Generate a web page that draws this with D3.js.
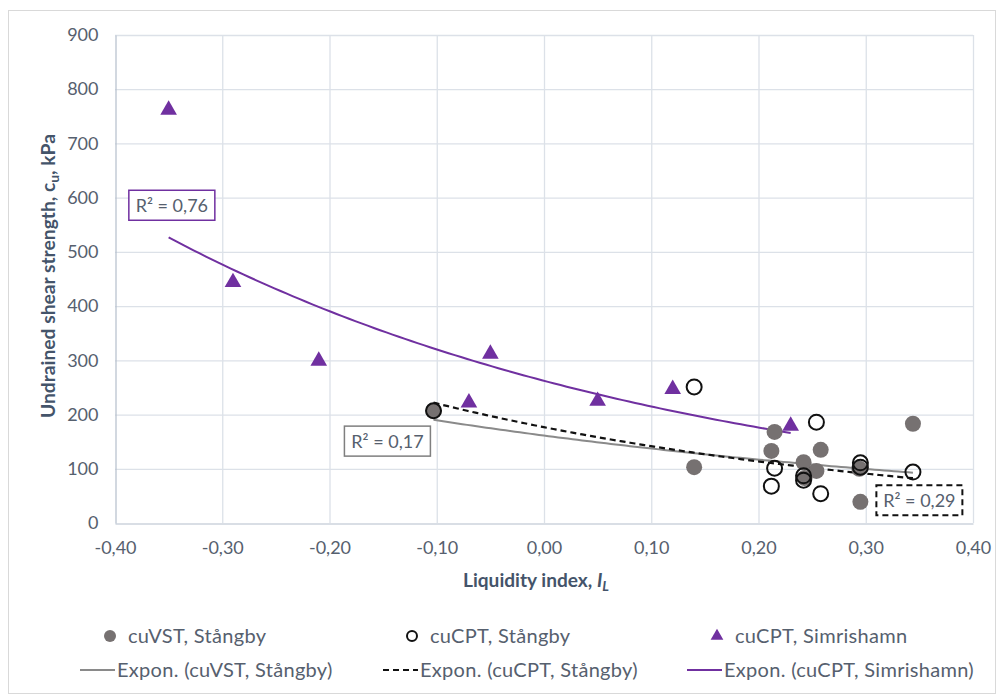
<!DOCTYPE html>
<html>
<head>
<meta charset="utf-8">
<script src="https://cdn.jsdelivr.net/npm/d3@7"></script>
<style>
  html, body { margin: 0; padding: 0; background: #fff; }
  svg { display: block; font-family: Lato, "Open Sans", sans-serif; }
</style>
</head>
<body>
<svg id="chart" width="1003" height="698"></svg>
<script>
// Liquidity index vs. undrained shear strength, Stångby and Simrishamn
const vstX = [-0.103, 0.140, 0.212, 0.215, 0.242, 0.243, 0.254, 0.258, 0.294, 0.295, 0.344];
const vstY = [207, 103, 133, 168, 112, 83, 96, 135, 100, 39, 183];

const cptX = [-0.103, 0.140, 0.254, 0.215, 0.212, 0.242, 0.242, 0.258, 0.295, 0.295, 0.344];
const cptY = [207, 251, 186, 101, 68, 79, 87, 54, 111, 103, 94];

const simX = [-0.350, -0.290, -0.210, -0.070, -0.050, 0.050, 0.120, 0.230];
const simY = [762, 444, 299, 222, 312, 225, 247, 179];

const xTicks = [-0.4, -0.3, -0.2, -0.1, 0.0, 0.1, 0.2, 0.3, 0.4];
const yTicks = [0, 100, 200, 300, 400, 500, 600, 700, 800, 900];

const seriesNames = ["cuVST, Stångby", "cuCPT, Stångby", "cuCPT, Simrishamn"];
const r2Labels = ["R² = 0,17", "R² = 0,29", "R² = 0,76"];

const svg = d3.select("#chart");
const margin = { left: 115, right: 30, top: 35, bottom: 175 };
const W = 1003, H = 698;

const x = d3.scaleLinear().domain([-0.4, 0.4]).range([margin.left, W - margin.right]);
const y = d3.scaleLinear().domain([0, 900]).range([H - margin.bottom, margin.top]);

const purple = "#7030A0";
const grayFill = "#767171";
const trendGray = "#8A8A8A";
const textCol = "#56606E";
const titleCol = "#44546A";
const gridCol = "#DCE1E8";

// outer chart frame
svg.append("rect").attr("x", 8.5).attr("y", 10.5).attr("width", 987).attr("height", 683)
  .attr("fill", "#fff").attr("stroke", "#D9D9D9");

// gridlines
svg.append("g").selectAll("line").data(yTicks.slice(1)).join("line")
  .attr("x1", x(-0.4)).attr("x2", x(0.4))
  .attr("y1", d => y(d) + 0.5).attr("y2", d => y(d) + 0.5)
  .attr("stroke", gridCol).attr("stroke-width", 1.3);
svg.append("g").selectAll("line").data(xTicks.slice(1)).join("line")
  .attr("x1", d => x(d) + 0.5).attr("x2", d => x(d) + 0.5)
  .attr("y1", y(0)).attr("y2", y(900))
  .attr("stroke", gridCol).attr("stroke-width", 1.3);

// axes
const fmt = d => d3.format(".2f")(d).replace(".", ",").replace("−", "-");
const xAxis = d3.axisBottom(x).tickValues(xTicks).tickFormat(fmt).tickSize(0).tickPadding(18);
const yAxis = d3.axisLeft(y).tickValues(yTicks).tickFormat(d3.format("d")).tickSize(0).tickPadding(17);

const gx = svg.append("g").attr("transform", `translate(0,${y(0) + 0.5})`).call(xAxis);
const gy = svg.append("g").attr("transform", `translate(${x(-0.4) + 0.5},0)`).call(yAxis);
[gx, gy].forEach(g => {
  g.select(".domain").attr("stroke", "#B4BECC").attr("stroke-width", 1.2);
  g.selectAll("text").attr("fill", textCol).attr("font-size", 18).attr("font-family", "Lato, sans-serif");
});

// axis titles (Calibri-like narrow setting)
const xt = svg.append("text").attr("x", 536).attr("y", 587).attr("text-anchor", "middle")
  .attr("fill", titleCol).attr("font-weight", "bold").attr("font-size", 18)
  .attr("textLength", 146).attr("lengthAdjust", "spacingAndGlyphs");
xt.append("tspan").text("Liquidity index, ");
xt.append("tspan").attr("font-style", "italic").text("I");
xt.append("tspan").attr("font-style", "italic").attr("font-size", 13).attr("dy", 4).text("L");

const yt = svg.append("text").attr("transform", "translate(55,276) rotate(-90)")
  .attr("text-anchor", "middle").attr("fill", titleCol).attr("font-weight", "bold").attr("font-size", 18)
  .attr("textLength", 284).attr("lengthAdjust", "spacingAndGlyphs");
yt.append("tspan").text("Undrained shear strength, c");
yt.append("tspan").attr("font-size", 13).attr("dy", 4).text("u");
yt.append("tspan").attr("dy", -4).text(", kPa");

// exponential trendline: least squares on ln(y)
function expFit(xs, ys) {
  const n = xs.length;
  const ly = ys.map(Math.log);
  const mx = d3.mean(xs), my = d3.mean(ly);
  let sxy = 0, sxx = 0;
  for (let i = 0; i < n; i++) { sxy += (xs[i] - mx) * (ly[i] - my); sxx += (xs[i] - mx) ** 2; }
  const b = sxy / sxx;
  const a = Math.exp(my - b * mx);
  return v => a * Math.exp(b * v);
}
function trendPath(xs, ys) {
  const f = expFit(xs, ys);
  const [lo, hi] = d3.extent(xs);
  const pts = d3.range(0, 101).map(i => lo + (hi - lo) * i / 100);
  return d3.line().x(v => x(v)).y(v => y(f(v)))(pts);
}

svg.append("path").attr("d", trendPath(vstX, vstY)).attr("fill", "none")
  .attr("stroke", trendGray).attr("stroke-width", 2);
svg.append("path").attr("d", trendPath(cptX, cptY)).attr("fill", "none")
  .attr("stroke", "#111").attr("stroke-width", 2.2).attr("stroke-dasharray", "6,4");
svg.append("path").attr("d", trendPath(simX, simY)).attr("fill", "none")
  .attr("stroke", purple).attr("stroke-width", 2);

// markers
svg.append("g").selectAll("circle").data(d3.range(vstX.length)).join("circle")
  .attr("cx", i => x(vstX[i])).attr("cy", i => y(vstY[i])).attr("r", 8)
  .attr("fill", grayFill);
svg.append("g").selectAll("circle").data(d3.range(cptX.length)).join("circle")
  .attr("cx", i => x(cptX[i])).attr("cy", i => y(cptY[i])).attr("r", 7.5)
  .attr("fill", "none").attr("stroke", "#111").attr("stroke-width", 2);
const tri = d3.symbol().type(d3.symbolTriangle).size(120);
svg.append("g").selectAll("path").data(d3.range(simX.length)).join("path")
  .attr("transform", i => `translate(${x(simX[i])},${y(simY[i])})`)
  .attr("d", tri).attr("fill", purple);

// R² boxes
const r2Boxes = [
  { label: r2Labels[0], cx: -0.146, cy: 151, stroke: "#7F7F7F", dash: null },
  { label: r2Labels[1], cx: 0.350, cy: 42, stroke: "#111", dash: "6,4" },
  { label: r2Labels[2], cx: -0.347, cy: 586, stroke: purple, dash: null }
];
r2Boxes.forEach(b => {
  const g = svg.append("g").attr("transform", `translate(${x(b.cx)},${y(b.cy)})`);
  g.append("rect").attr("x", -43).attr("y", -15).attr("width", 86).attr("height", 30)
    .attr("fill", "#fff").attr("stroke", b.stroke).attr("stroke-width", b.dash ? 2 : 1.5)
    .attr("stroke-dasharray", b.dash);
  g.append("text").attr("text-anchor", "middle").attr("dy", 6.5)
    .attr("fill", textCol).attr("font-size", 18).text(b.label);
});

// legend
const legTextSize = 20;
const legSpacing = 0.3;
const row1 = 636, row2 = 670;
const leg = svg.append("g");
const markerX = [110, 412, 717];
leg.append("circle").attr("cx", markerX[0]).attr("cy", row1).attr("r", 6).attr("fill", grayFill);
leg.append("circle").attr("cx", markerX[1]).attr("cy", row1).attr("r", 5).attr("fill", "none")
  .attr("stroke", "#111").attr("stroke-width", 2);
leg.append("path").attr("transform", `translate(${markerX[2]},${row1})`)
  .attr("d", d3.symbol().type(d3.symbolTriangle).size(70)).attr("fill", purple);
seriesNames.forEach((s, i) => {
  leg.append("text").attr("x", markerX[i] + 18).attr("y", row1 + 7)
    .attr("fill", textCol).attr("font-size", legTextSize)
    .attr("letter-spacing", legSpacing).text(s);
});
const lineX = [80, 383, 687];
const lineStyles = [
  { stroke: trendGray, dash: null },
  { stroke: "#111", dash: "6,4" },
  { stroke: purple, dash: null }
];
seriesNames.forEach((s, i) => {
  leg.append("line").attr("x1", lineX[i]).attr("x2", lineX[i] + 35)
    .attr("y1", row2).attr("y2", row2)
    .attr("stroke", lineStyles[i].stroke).attr("stroke-width", 2)
    .attr("stroke-dasharray", lineStyles[i].dash);
  leg.append("text").attr("x", lineX[i] + 37).attr("y", row2 + 7)
    .attr("fill", textCol).attr("font-size", legTextSize)
    .attr("letter-spacing", legSpacing).text(`Expon. (${s})`);
});
</script>
</body>
</html>
